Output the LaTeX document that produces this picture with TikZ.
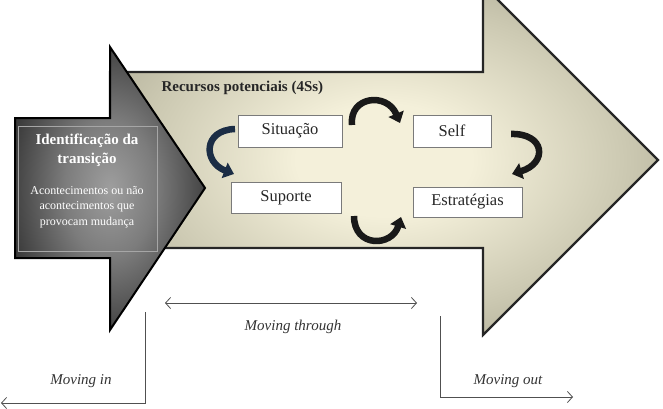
\documentclass[tikz,border=0pt]{standalone}
\usepackage{fontspec}
\setmainfont{Liberation Serif}
\usetikzlibrary{arrows.meta}
\definecolor{khaki}{HTML}{9E9B86}
\definecolor{cream}{HTML}{F4F0DA}
\definecolor{midkh}{HTML}{CCC9B2}
\definecolor{dkA}{HTML}{9E9E9E}
\definecolor{dkB}{HTML}{7C7C7C}
\definecolor{dkC}{HTML}{2E2E2E}
\definecolor{dkD}{HTML}{0C0C0C}
\definecolor{boxline}{HTML}{7A7A7A}
\definecolor{thin}{HTML}{505050}
\definecolor{navy}{HTML}{1B2D45}
\pgfdeclareradialshading{glow}{\pgfpoint{0bp}{0bp}}{color(0bp)=(cream); color(8bp)=(cream); color(22bp)=(midkh); color(36bp)=(khaki); color(50bp)=(khaki)}
\pgfdeclareradialshading{darkglow}{\pgfpoint{0bp}{0bp}}{color(0bp)=(dkA); color(12bp)=(dkB); color(30bp)=(dkC); color(46bp)=(dkD); color(50bp)=(dkD)}
\tikzset{
  box/.style={draw=boxline, line width=0.8pt, fill=white, inner sep=0pt, font=\fontsize{16.5}{18}\selectfont, text=black!85},
  curvy/.style={line width=6.5pt, draw=black!90, -{Triangle[width=16pt,length=10pt]}},
  thinarrow/.style={draw=thin, line width=0.8pt},
  tipb/.style={-{Straight Barb[length=5pt,width=11pt,line width=0.8pt]}},
  movtext/.style={font=\fontsize{15}{17}\selectfont\itshape, text=black!80},
}
\begin{document}
\begin{tikzpicture}[x=1pt,y=-1pt]
\useasboundingbox (0,0) rectangle (663,409);
\clip (0,0) rectangle (663,409);
% big arrow
\path[shading=glow, draw=black!85, line width=2.2pt, line join=miter]
  (110,72) -- (483,72) -- (483,-15) -- (658,160) -- (483,335) -- (483,248) -- (110,248) -- cycle;
% left arrow
\path[shading=darkglow, draw=black, line width=2pt, line join=miter]
  (15,118) -- (110,118) -- (110,47) -- (205,188) -- (110,330) -- (110,258) -- (15,258) -- cycle;
\draw[draw=gray!70, line width=0.5pt] (18,126) rectangle (157,251);
\node[align=center, text=white, font=\fontsize{15}{19}\selectfont\bfseries] (ident) at (87,150) {Identificação da\\transição};
\node[align=center, text=white, font=\fontsize{12}{15.5}\selectfont] (acont) at (87,207) {Acontecimentos ou não\\acontecimentos que\\provocam mudança};
% title
\node[anchor=west, font=\fontsize{15}{17}\selectfont\bfseries, text=black!85] (rec) at (158,88) {Recursos potenciais (4Ss)};
% boxes
\node[box, minimum width=104pt, minimum height=32pt] (sit) at (290,131) {Situação};
\node[box, minimum width=78pt, minimum height=32pt] (self) at (452,131) {Self};
\node[box, minimum width=110pt, minimum height=31pt] (sup) at (286,197.5) {Suporte};
\node[box, minimum width=109pt, minimum height=30pt] (est) at (467.5,202) {Estratégias};
% curved arrows
\coordinate (c1a) at (352,125); \coordinate (c1b) at (400,123);
\coordinate (c2a) at (511,134); \coordinate (c2b) at (512,174);
\coordinate (c3a) at (354,216); \coordinate (c3b) at (401,217);
\coordinate (c4a) at (235,129); \coordinate (c4b) at (234,174);
\draw[curvy] (c1a) .. controls (349,96) and (387,92) .. (c1b);
\draw[curvy] (c2a) .. controls (545,133) and (548,163) .. (c2b);
\draw[curvy] (c3a) .. controls (354,248) and (392,247) .. (c3b);
\draw[curvy, draw=navy] (c4a) .. controls (203,130) and (203,162) .. (c4b);
% moving arrows
\coordinate (thA) at (165,303); \coordinate (thB) at (417,303);
\draw[thinarrow, {Straight Barb[length=5pt,width=11pt,line width=0.8pt]}-{Straight Barb[length=5pt,width=11pt,line width=0.8pt]}] (thA) -- (thB);
\node[movtext] (mthrough) at (293,327) {Moving through};
\coordinate (inTop) at (145,312); \coordinate (inCorner) at (145,403); \coordinate (inEnd) at (1,403);
\draw[thinarrow, tipb] (inTop) -- (inCorner) -- (inEnd);
\node[movtext] (min) at (81,381) {Moving in};
\coordinate (outTop) at (440,316); \coordinate (outCorner) at (440,397); \coordinate (outEnd) at (573,397);
\draw[thinarrow, tipb] (outTop) -- (outCorner) -- (outEnd);
\node[movtext] (mout) at (508,381) {Moving out};
\end{tikzpicture}
\end{document}
